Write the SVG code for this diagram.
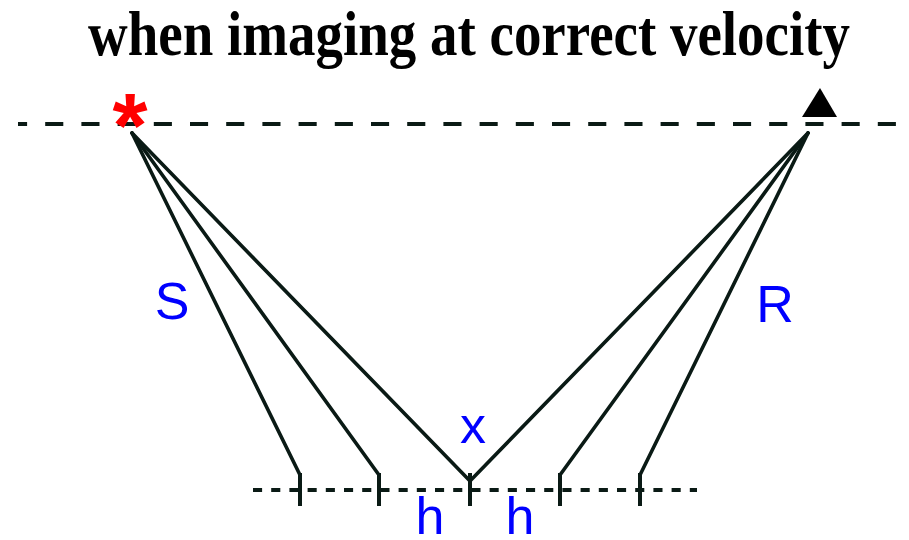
<svg xmlns="http://www.w3.org/2000/svg" width="909" height="540" viewBox="0 0 909 540">
<style>
.ray{stroke:#0a1a15;stroke-width:3.6;fill:none;stroke-linecap:round}
.tick{stroke:#0a1a15;stroke-width:4;fill:none}
.lbl{font-family:"Liberation Sans",Arial,sans-serif;font-size:52px;fill:#0000ff;text-anchor:middle}
</style>
<rect width="909" height="540" fill="#ffffff"/>
<text id="title" x="88" y="55" font-family="'Liberation Serif','Times New Roman',serif" font-weight="bold" font-size="64" textLength="762" lengthAdjust="spacingAndGlyphs">when imaging at correct velocity</text>
<g id="surface">
<line x1="18" y1="124" x2="896" y2="124" stroke="#0a1a15" stroke-width="4" stroke-dasharray="18.1 18.1" stroke-dashoffset="9"/>
</g>
<g id="reflector">
<line x1="253" y1="490" x2="697" y2="490" stroke="#0a1a15" stroke-width="4" stroke-dasharray="9.1 9.1"/>
</g>
<g id="connectors">
<line class="ray" x1="132" y1="133" x2="300" y2="475"/>
<line class="ray" x1="132" y1="133" x2="379" y2="475"/>
<line class="ray" x1="132" y1="133" x2="470" y2="481"/>
<line class="ray" x1="808" y1="133" x2="470" y2="481"/>
<line class="ray" x1="808" y1="133" x2="560" y2="475"/>
<line class="ray" x1="808" y1="133" x2="640" y2="475"/>
</g>
<g id="ticks">
<line class="tick" x1="300" y1="473" x2="300" y2="506"/>
<line class="tick" x1="379" y1="473" x2="379" y2="506"/>
<line class="tick" x1="470" y1="473" x2="470" y2="506"/>
<line class="tick" x1="560" y1="473" x2="560" y2="506"/>
<line class="tick" x1="640" y1="473" x2="640" y2="506"/>
</g>
<g id="source">
<text x="130" y="157" font-family="'Liberation Sans',Arial,sans-serif" font-weight="bold" font-size="90" fill="#ff0000" text-anchor="middle">*</text>
</g>
<g id="receiver">
<polygon points="820,88 802,117 837,117" fill="#000000"/>
</g>
<g id="labels">
<text class="lbl" x="172" y="319">S</text>
<text class="lbl" x="775" y="322">R</text>
<text class="lbl" x="473" y="443">x</text>
<text class="lbl" x="430" y="534">h</text>
<text class="lbl" x="520" y="534">h</text>
</g>
</svg>
